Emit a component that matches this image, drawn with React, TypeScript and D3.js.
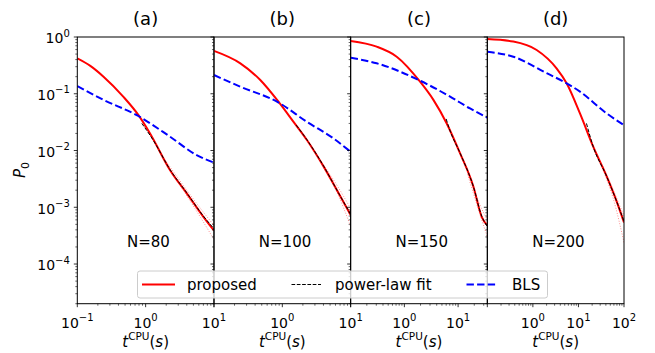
import React from "react";
import * as d3 from "d3";

// ---------------- data ----------------
const panelLabels = ["(a)", "(b)", "(c)", "(d)"];
const nLabels = ["N=80", "N=100", "N=150", "N=200"];
const xDomains: [number, number][] = [[0.1, 10], [0.1, 10], [0.1, 35], [0.1, 100]];
const xLabelledExps = [[-1, 0, 1], [0, 1], [0, 1], [0, 1, 2]];
const yLabelledExps = [0, -1, -2, -3, -4];
const yDomain: [number, number] = [2e-5, 1];
const legendLabels = ["proposed", "power-law fit", "BLS"];

// proposed (red solid)
const proposedA: [number, number][] = [[0.1, 0.42], [0.155, 0.31], [0.242, 0.2], [0.47, 0.089], [0.785, 0.042], [1.16, 0.02], [2.28, 0.0045], [4.0, 0.00176], [7.0, 6.8e-4], [10, 3.9e-4]];
const proposedB: [number, number][] = [[0.1, 0.57], [0.243, 0.344], [0.476, 0.175], [0.883, 0.072], [1.46, 0.032], [2.29, 0.0153], [4.03, 0.0052], [6.31, 0.002], [10, 7.3e-4]];
const proposedC: [number, number][] = [[0.1, 0.85], [0.305, 0.675], [0.72, 0.45], [1.96, 0.163], [3.47, 0.078], [6.14, 0.03], [10.9, 0.0089], [19.3, 0.0023], [27.5, 6.8e-4], [35, 4.8e-4]];
const proposedD: [number, number][] = [[0.1, 0.92], [0.372, 0.83], [1.21, 0.59], [3.31, 0.28], [5.5, 0.153], [10.8, 0.045], [21.1, 0.0117], [41.7, 0.0035], [69.2, 0.00126], [100, 5.4e-4]];

// proposed spread (light red dotted)
const spreadLoA: [number, number][] = [[2.0, 0.0058], [4.0, 0.0016], [7.0, 5.5e-4], [10, 2.7e-4]];
const spreadHiA: [number, number][] = [[2.0, 0.0064], [4.0, 0.002], [7.0, 8.2e-4], [10, 4.8e-4]];
const spreadLoB: [number, number][] = [[4.0, 0.005], [6.5, 0.0017], [10, 4.6e-4]];
const spreadHiB: [number, number][] = [[4.0, 0.0056], [6.5, 0.0023], [10, 9.5e-4]];
const spreadLoC: [number, number][] = [[15, 0.0038], [25, 8e-4], [35, 3.0e-4]];
const spreadHiC: [number, number][] = [[15, 0.0045], [25, 1.15e-3], [35, 6e-4]];
const spreadLoD: [number, number][] = [[35, 0.0045], [60, 1.3e-3], [100, 2.4e-4]];
const spreadHiD: [number, number][] = [[35, 0.0052], [60, 1.9e-3], [100, 7e-4]];

// power-law fit (black dashed)
const powerA: [number, number][] = [[0.88, 0.03], [1.3, 0.015], [2.28, 0.0046], [4.0, 0.0018], [7.0, 7e-4], [10, 4.2e-4]];
const powerB: [number, number][] = [[1.6, 0.028], [2.29, 0.0155], [4.03, 0.0053], [6.31, 0.002], [10, 7.5e-4]];
const powerC: [number, number][] = [[6.0, 0.036], [7.0, 0.023], [10.9, 0.009], [19.3, 0.0023], [27.5, 7e-4], [35, 4.6e-4]];
const powerD: [number, number][] = [[15, 0.03], [21.1, 0.0117], [41.7, 0.0035], [69.2, 0.00126], [100, 5.6e-4]];

// BLS (blue dashed)
const blsA: [number, number][] = [[0.1, 0.137], [0.242, 0.078], [0.741, 0.042], [2.28, 0.0175], [5.58, 0.0083], [10, 0.0061]];
const blsB: [number, number][] = [[0.1, 0.214], [0.243, 0.133], [0.883, 0.07], [2.29, 0.032], [5.58, 0.0164], [10, 0.0095]];
const blsC: [number, number][] = [[0.1, 0.43], [0.305, 0.344], [1.96, 0.17], [7.1, 0.089], [16.7, 0.055], [35, 0.038]];
const blsD: [number, number][] = [[0.1, 0.55], [0.372, 0.45], [2.0, 0.23], [5.5, 0.153], [10.8, 0.109], [41.7, 0.045], [100, 0.028]];

const proposed = [proposedA, proposedB, proposedC, proposedD];
const spreadLo = [spreadLoA, spreadLoB, spreadLoC, spreadLoD];
const spreadHi = [spreadHiA, spreadHiB, spreadHiC, spreadHiD];
const power = [powerA, powerB, powerC, powerD];
const bls = [blsA, blsB, blsC, blsD];

// ---------------- layout ----------------
const W = 655, H = 353;
const left = 77.3, right = 624, top = 37, bottom = 303.7;
const pw = (right - left) / 4;
const FONT = "DejaVu Sans, sans-serif";
const MINUS = "\u2212";

function Panel({ i }: { i: number }) {
  const x0 = left + i * pw, x1 = x0 + pw;
  const xs = d3.scaleLog().domain(xDomains[i]).range([x0, x1]);
  const ys = d3.scaleLog().domain(yDomain).range([bottom, top]);
  const line = d3.line<[number, number]>().x(d => xs(d[0])).y(d => ys(d[1])).curve(d3.curveMonotoneX);
  const clipId = `clip${i}`;

  const [dmin, dmax] = xDomains[i];
  const xMajor: number[] = [];
  const xMinor: number[] = [];
  for (let e = Math.floor(Math.log10(dmin)); e <= Math.ceil(Math.log10(dmax)); e++) {
    for (let m = 1; m <= 9; m++) {
      const v = m * Math.pow(10, e);
      if (v < dmin * 0.999 || v > dmax * 1.001) continue;
      (m === 1 ? xMajor : xMinor).push(v);
    }
  }
  const yMajor: number[] = [];
  const yMinor: number[] = [];
  for (let e = -5; e <= 0; e++) {
    for (let m = 1; m <= 9; m++) {
      const v = m * Math.pow(10, e);
      if (v < yDomain[0] * 0.999 || v > yDomain[1] * 1.001) continue;
      (m === 1 ? yMajor : yMinor).push(v);
    }
  }

  const cx = (x0 + x1) / 2;
  return (
    <g>
      <defs>
        <clipPath id={clipId}>
          <rect x={x0} y={top} width={pw} height={bottom - top} />
        </clipPath>
      </defs>
      <g clipPath={`url(#${clipId})`}>
        <path d={line(spreadLo[i]) || ""} fill="none" stroke="#ff0000" strokeOpacity={0.45} strokeWidth={1} strokeDasharray="1,1.65" />
        <path d={line(spreadHi[i]) || ""} fill="none" stroke="#ff0000" strokeOpacity={0.45} strokeWidth={1} strokeDasharray="1,1.65" />
        <path d={line(proposed[i]) || ""} fill="none" stroke="#ff0000" strokeWidth={2} />
        <path d={line(power[i]) || ""} fill="none" stroke="#000000" strokeWidth={1} strokeDasharray="3.7,1.6" />
        <path d={line(bls[i]) || ""} fill="none" stroke="#0000ff" strokeWidth={2} strokeDasharray="7.4,3.2" />
      </g>
      {/* x ticks */}
      {xMajor.map((v, k) => (
        <line key={`xM${k}`} x1={xs(v)} x2={xs(v)} y1={bottom} y2={bottom + 3.5} stroke="#000" strokeWidth={0.8} />
      ))}
      {xMinor.map((v, k) => (
        <line key={`xm${k}`} x1={xs(v)} x2={xs(v)} y1={bottom} y2={bottom + 2} stroke="#000" strokeWidth={0.6} />
      ))}
      {/* y ticks */}
      {yMajor.map((v, k) => (
        <line key={`yM${k}`} x1={x0} x2={x0 - 3.5} y1={ys(v)} y2={ys(v)} stroke="#000" strokeWidth={0.8} />
      ))}
      {yMinor.map((v, k) => (
        <line key={`ym${k}`} x1={x0} x2={x0 - 2} y1={ys(v)} y2={ys(v)} stroke="#000" strokeWidth={0.6} />
      ))}
      {/* x tick labels */}
      {xLabelledExps[i].map(e => (
        <text key={`xl${e}`} x={xs(Math.pow(10, e))} y={327.8} textAnchor="middle" fontFamily={FONT} fontSize={14} fill="#000">
          <tspan>10</tspan>
          <tspan fontSize={10} dy={-6.8}>{e < 0 ? MINUS + Math.abs(e) : String(e)}</tspan>
        </text>
      ))}
      {/* y tick labels only on the first panel */}
      {i === 0 && yLabelledExps.map(e => (
        <text key={`yl${e}`} x={x0 - 7.5} y={ys(Math.pow(10, e)) + 6.3} textAnchor="end" fontFamily={FONT} fontSize={14} fill="#000">
          <tspan>10</tspan>
          <tspan fontSize={10} dy={-6.8}>{e < 0 ? MINUS + Math.abs(e) : String(e)}</tspan>
        </text>
      ))}
      {/* spines */}
      <rect x={x0} y={top} width={pw} height={bottom - top} fill="none" stroke="#000" strokeWidth={1} />
      {/* title */}
      <text x={cx} y={25} textAnchor="middle" fontFamily={FONT} fontSize={18} fill="#000">{panelLabels[i]}</text>
      {/* N label */}
      <text x={x0 + pw * 0.52} y={246.7} textAnchor="middle" fontFamily={FONT} fontSize={15} fill="#000">{nLabels[i]}</text>
      {/* x axis label */}
      <text x={cx} y={346.5} textAnchor="middle" fontFamily={FONT} fontSize={15} fill="#000">
        <tspan fontStyle="italic">t</tspan>
        <tspan fontSize={10.5} dy={-7}>CPU</tspan>
        <tspan dy={7}>(</tspan>
        <tspan fontStyle="italic">s</tspan>
        <tspan>)</tspan>
      </text>
    </g>
  );
}

function Legend() {
  const lx = 137.5, ly = 271, lw = 410, lh = 27;
  const cy = ly + lh / 2;
  return (
    <g>
      <rect x={lx} y={ly} width={lw} height={lh} rx={2.5} fill="#ffffff" fillOpacity={0.8} stroke="#cccccc" strokeWidth={1} />
      <line x1={142} x2={175} y1={cy} y2={cy} stroke="#ff0000" strokeWidth={2} />
      <text x={187} y={cy + 5.5} fontFamily={FONT} fontSize={15} fill="#000">{legendLabels[0]}</text>
      <line x1={291.5} x2={321} y1={cy} y2={cy} stroke="#000" strokeWidth={1} strokeDasharray="3.7,1.6" />
      <text x={335} y={cy + 5.5} fontFamily={FONT} fontSize={15} fill="#000">{legendLabels[1]}</text>
      <line x1={466.5} x2={497} y1={cy} y2={cy} stroke="#0000ff" strokeWidth={2} strokeDasharray="7.4,3.2" />
      <text x={512} y={cy + 5.5} fontFamily={FONT} fontSize={15} fill="#000">{legendLabels[2]}</text>
    </g>
  );
}

export default function App() {
  return (
    <svg width={W} height={H} style={{ position: "absolute", left: 0, top: 0, background: "#fff" }}>
      <rect x={0} y={0} width={W} height={H} fill="#fff" />
      {[0, 1, 2, 3].map(i => <Panel key={i} i={i} />)}
      <text transform={`translate(25,170) rotate(-90)`} textAnchor="middle" fontFamily={FONT} fontSize={15} fill="#000">
        <tspan fontStyle="italic">P</tspan>
        <tspan fontSize={11} dy={3.5}>0</tspan>
      </text>
      <Legend />
    </svg>
  );
}
